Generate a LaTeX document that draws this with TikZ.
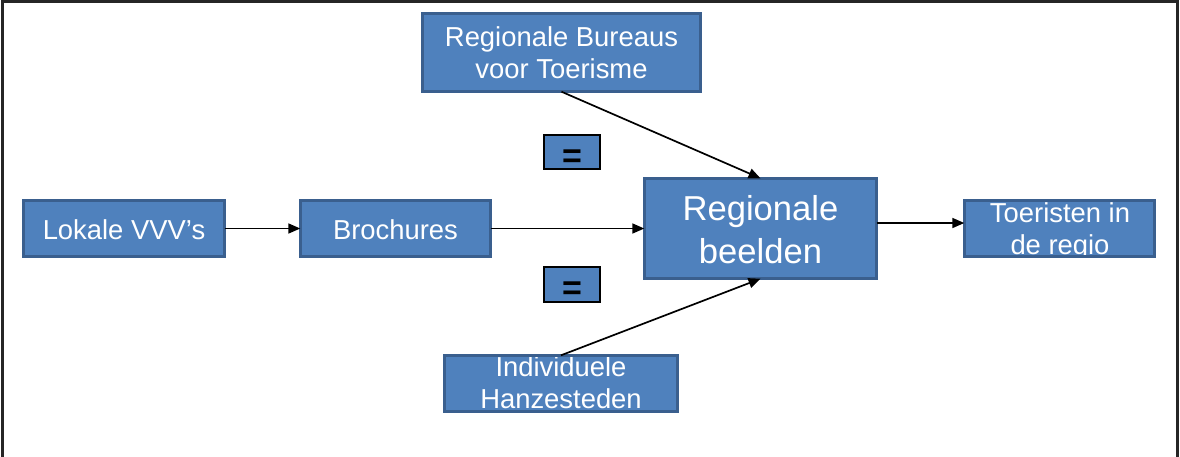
\documentclass[tikz,border=0pt]{standalone}
\usepackage{fontspec}
\setmainfont{Liberation Sans}
\usetikzlibrary{arrows.meta,calc}
\definecolor{boxfill}{HTML}{4F81BD}
\definecolor{boxline}{HTML}{3A5F8E}
\begin{document}
\begin{tikzpicture}[x=1pt,y=-1pt,
  bbox/.style={fill=boxfill, inner sep=0pt},
  bline/.style={draw=boxline, line width=3pt},
  eqbox/.style={draw=black, line width=1.2pt, fill=boxfill, inner sep=0pt, minimum width=56pt, minimum height=34pt},
  lbl/.style={text=white, align=center, inner sep=0pt, font=\fontsize{27.4}{31.5}\selectfont},
  biglbl/.style={text=white, align=center, inner sep=0pt, font=\fontsize{34.6}{43}\selectfont},
  eqlbl/.style={text=black, inner sep=0pt, font=\fontsize{34}{40}\selectfont\bfseries},
  conn/.style={line width=1.7pt, -{Triangle[length=12pt,width=10pt]}}]
\useasboundingbox (0,0) rectangle (1180,456);
\draw[black!85, line width=2.2pt] (2.5,470) -- (2.5,1.5) -- (1177.5,1.5) -- (1177.5,470);
% boxes
\node[bbox, minimum width=278pt, minimum height=78pt] (bur) at (561.5,52.5) {};
\node[bbox, minimum width=232pt, minimum height=100pt] (reg) at (760.5,228.5) {};
\node[bbox, minimum width=201pt, minimum height=56pt] (lok) at (124,228.5) {};
\node[bbox, minimum width=190pt, minimum height=56pt] (bro) at (395.5,228.5) {};
\node[bbox, minimum width=190pt, minimum height=56pt] (toe) at (1059.5,228.5) {};
\node[bbox, minimum width=233pt, minimum height=56pt] (ind) at (561,383.5) {};
\node[eqbox] (eq1) at (572,152) {};
\node[eqbox, minimum height=35pt] (eq2) at (572,284.5) {};
% labels (anchor=base is the baseline of the last line)
\node[lbl, anchor=base] (bur-t) at (561.5,78) {Regionale Bureaus\\voor Toerisme};
\node[biglbl, anchor=base] (reg-t) at (760.5,263) {Regionale\\beelden};
\node[lbl, anchor=base] (lok-t) at (124,239) {Lokale VVV’s};
\node[lbl, anchor=base] (bro-t) at (395.5,239) {Brochures};
\node[lbl, anchor=base] (toe-t) at (1060,254) {Toeristen in\\de regio};
\node[lbl, anchor=base] (ind-t) at (561,408) {Individuele\\Hanzesteden};
\node[eqlbl, anchor=base] (eq1-t) at (572,167) {=};
\node[eqlbl, anchor=base] (eq2-t) at (572,299) {=};
% borders
\foreach \n in {bur,reg,lok,bro,toe,ind}
  \draw[bline] (\n.north west) rectangle (\n.south east);
% connectors
\draw[conn] (lok) -- (bro);
\draw[conn] (bro) -- (reg);
\draw[conn] ($(reg.east)+(0,-5.5)$) -- ($(toe.west)+(0,-5.5)$);
\draw[conn] (bur.south) -- (reg.north);
\draw[conn] (ind.north) -- (reg.south);
\end{tikzpicture}
\end{document}
